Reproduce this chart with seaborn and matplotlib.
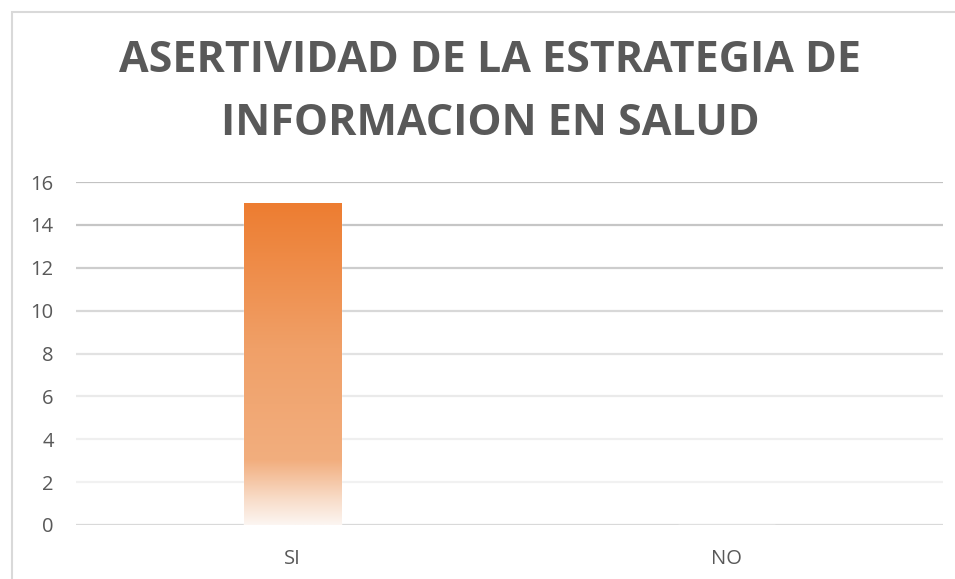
import numpy as np
import pandas as pd
import matplotlib
matplotlib.use("Agg")
import matplotlib.pyplot as plt
from matplotlib.colors import LinearSegmentedColormap
from matplotlib.patches import Rectangle
import seaborn as sns

# Data
categories = ["SI", "NO"]
values = [15, 0]
y_ticks = [0, 2, 4, 6, 8, 10, 12, 14, 16]
title = "ASERTIVIDAD DE LA ESTRATEGIA DE\nINFORMACION EN SALUD"

sns.set_theme(style="white")
plt.rcParams["font.family"] = ["Open Sans", "DejaVu Sans"]

df = pd.DataFrame({"respuesta": categories, "cantidad": values})

fig = plt.figure(figsize=(9.55, 5.79), dpi=100)
ax = fig.add_axes([76 / 955, 1 - 525 / 579, (943 - 76) / 955, (525 - 182) / 579])

sns.barplot(data=df, x="respuesta", y="cantidad", ax=ax, width=0.224,
            color="#ED7D31", saturation=1, zorder=3)

ax.set_xlim(-0.5, 1.5)
ax.set_ylim(0, 16)
ax.set_yticks(y_ticks)
ax.set_xlabel("")
ax.set_ylabel("")
for s in ax.spines.values():
    s.set_visible(False)

# Horizontal gridlines, fading from darker at the top to lighter below
grid_colors = ["#d9d9d9", "#f1f1f1", "#efefef", "#eaeaea", "#e2e2e2",
               "#d8d8d8", "#cdcdcd", "#c6c6c6", "#c2c2c2"]
for yv, c in zip(y_ticks, grid_colors):
    ax.axhline(yv, color=c, lw=1.6, zorder=1)

ax.tick_params(axis="both", length=0, labelsize=14.5, labelcolor="#595959")
ax.tick_params(axis="y", pad=16)
ax.tick_params(axis="x", pad=17)

# Vertical gradient fill for each bar
cmap = LinearSegmentedColormap.from_list(
    "fade", [(0.0, "#FCF5F1"), (0.08, "#F8DCC8"), (0.2, "#F2AE7E"),
             (0.55, "#F0A068"), (1.0, "#ED7D31")])
for patch in ax.patches:
    h = patch.get_height()
    if h <= 0:
        continue
    x0 = patch.get_x()
    w = patch.get_width()
    grad = np.linspace(0, 1, 256).reshape(-1, 1)
    im = ax.imshow(grad, cmap=cmap, origin="lower", aspect="auto",
                   extent=[x0, x0 + w, 0, h], zorder=4)
    im.set_clip_path(patch)
    patch.set_facecolor("none")
ax.set_xlim(-0.5, 1.5)
ax.set_ylim(0, 16)

fig.text(490 / 955, 1 - 92 / 579, title, ha="center", va="center",
         fontsize=31, fontweight="bold", color="#595959", linespacing=1.58)

# Chart frame
fig.patches.append(Rectangle((12 / 955, -0.2), 1.2, 1.2 - 12 / 579,
                             transform=fig.transFigure, fill=False,
                             edgecolor="#d9d9d9", lw=1.5))

fig.savefig("out.png", dpi=100)
